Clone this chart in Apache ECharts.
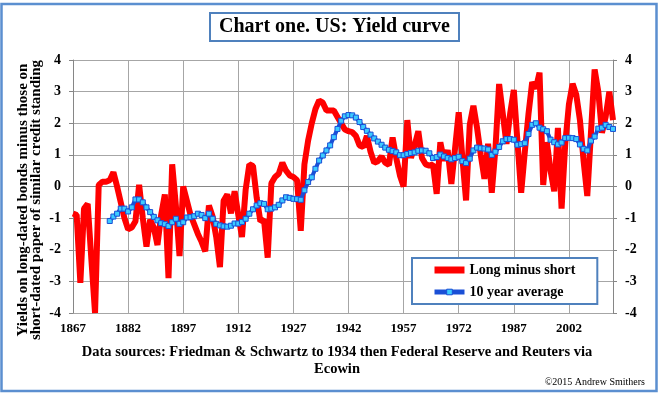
<!DOCTYPE html>
<html>
<head>
<meta charset="utf-8">
<script src="https://cdn.jsdelivr.net/npm/echarts@6/dist/echarts.min.js"></script>
<style>
  html, body { margin: 0; padding: 0; background: #fff; }
  #line { width: 661px; height: 397px; }
</style>
</head>
<body>
<div id="line"></div>
<script>
// 数据：从图上读出来的估计值
var firstYear = 1867;
var longMinusShort = [
  -0.85, -0.9, -3.05, -0.7, -0.55, -2.3, -4.0, 0.05, 0.15, 0.15,
  0.2, 0.45, 0.0, -0.5, -1.0, -1.35, -1.3, -1.1, 0.05, -1.0,
  -1.9, -1.05, -1.3, -1.85, -0.9, -0.25, -2.9, 0.7, -0.6, -2.2,
  0.0, -0.45, -0.9, -1.2, -1.5, -1.75, -2.05, -0.6, -0.95, -1.6,
  -2.55, -0.45, -0.25, -0.85, -0.15, -0.9, -1.6, -0.1, 0.7, 0.65,
  -0.35, -1.1, -1.05, -2.25, 0.1, 0.3, 0.4, 0.75, 0.5, 0.35,
  0.3, 0.2, -1.4, 0.7, 1.45, 2.0, 2.45, 2.72, 2.65, 2.4,
  2.4, 2.4, 2.2, 2.0, 1.8, 1.75, 1.72, 1.6, 1.3, 1.25,
  1.6, 1.1, 0.75, 0.8, 0.95, 0.75, 0.68, 1.55, 0.9, 0.35,
  0.0, 2.1, 0.9, 1.3, 1.75, 0.9, 0.7, 0.66, 0.7, -0.23,
  1.4, 0.82, 1.15, 0.08, 1.2, 2.35, 0.9, -0.44, 1.95, 2.55,
  1.85, 1.0, 0.24, 1.35, -0.2, 1.2, 3.24, 2.3, 1.35, 2.3,
  3.05, 1.4, -0.2, 1.1, 2.3, 3.3, 3.1, 3.6, 0.05, 1.4,
  0.5, -0.15, 1.85, -0.7, 1.35, 2.6, 3.25, 2.9, 2.1, 0.8,
  -0.3, 1.7, 3.7, 3.0, 1.7, 2.2, 3.0, 2.1
];
var avgFirstYear = 1877;
var tenYearAvg = [
  -1.09, -0.95, -0.86, -0.7, -0.7, -0.79, -0.66, -0.41, -0.41, -0.5,
  -0.66, -0.81, -0.96, -1.07, -1.16, -1.19, -1.25, -1.13, -1.02, -1.18,
  -1.13, -0.98, -0.97, -0.94, -0.86, -0.9, -1.0, -0.86, -1.02, -1.18,
  -1.23, -1.26, -1.27, -1.24, -1.17, -1.17, -1.12, -1.02, -0.86, -0.72,
  -0.6, -0.53, -0.55, -0.72, -0.7, -0.66, -0.58, -0.44, -0.34, -0.36,
  -0.39, -0.4, -0.42, -0.12, 0.14, 0.29, 0.56, 0.82, 0.98, 1.14,
  1.3, 1.56, 1.82, 2.08, 2.22, 2.26, 2.25, 2.18, 2.04, 1.88,
  1.76, 1.64, 1.52, 1.42, 1.32, 1.23, 1.16, 1.12, 1.08, 0.99,
  0.99, 1.03, 1.06, 1.08, 1.13, 1.14, 1.13, 1.05, 0.9, 0.93,
  1.01, 0.95, 0.9, 0.86, 0.9, 0.94, 0.8, 0.74, 0.88, 1.14,
  1.23, 1.21, 1.2, 1.17, 1.0, 1.1, 1.25, 1.43, 1.5, 1.5,
  1.48, 1.32, 1.34, 1.37, 1.66, 1.95, 2.0, 1.86, 1.81, 1.75,
  1.48, 1.4, 1.33, 1.39, 1.53, 1.54, 1.53, 1.5, 1.33, 1.19,
  1.14, 1.45, 1.58, 1.83, 1.86, 1.95, 1.88, 1.82
];
var seriesNames = ["Long minus short", "10 year average"];

var years = [];
for (var i = 0; i < longMinusShort.length; i++) years.push(String(firstYear + i));
var avgData = years.map(function (y, i) {
  var j = i - (avgFirstYear - firstYear);
  return j >= 0 ? tenYearAvg[j] : '-';
});

var serif = "'Liberation Serif', 'Times New Roman', serif";
var frameBlue = '#4F81BD';
var avgBlue = '#1A4FD6';

var myChart = echarts.init(document.getElementById('line'));
myChart.setOption({
  animation: false,
  backgroundColor: '#fff',
  title: [
    {
      text: 'Chart one. US: Yield curve',
      left: 210,
      top: 13,
      padding: [4, 9],
      borderColor: frameBlue,
      borderWidth: 2,
      textStyle: { fontFamily: serif, fontSize: 20, fontWeight: 'bold', color: '#000' }
    },
    {
      text: 'Data sources: Friedman & Schwartz to 1934 then Federal Reserve and Reuters via\nEcowin',
      left: 337,
      top: 344,
      textAlign: 'center',
      padding: 0,
      textStyle: { fontFamily: serif, fontSize: 14.5, fontWeight: 'bold', color: '#000', lineHeight: 17, align: 'center' }
    },
    {
      text: '\u00a92015 Andrew Smithers',
      right: 16,
      top: 377,
      padding: 0,
      textStyle: { fontFamily: serif, fontSize: 10, fontWeight: 'normal', color: '#000' }
    }
  ],
  graphic: [
    {
      type: 'rect',
      shape: { x: 1.5, y: 4, width: 655, height: 387 },
      style: { fill: 'none', stroke: '#5B8FD0', lineWidth: 2.5 },
      silent: true
    },
    {
      type: 'text',
      x: 30,
      y: 200,
      rotation: Math.PI / 2,
      style: {
        text: 'Yields on long-dated bonds minus those on\nshort-dated paper of similar credit standing',
        font: 'bold 15px ' + serif,
        fill: '#000',
        lineHeight: 13,
        align: 'center',
        verticalAlign: 'middle',
        textAlign: 'center',
        textVerticalAlign: 'middle'
      },
      silent: true
    }
  ],
  legend: {
    orient: 'vertical',
    left: 412,
    top: 258,
    padding: [5, 22, 5, 19],
    itemWidth: 30,
    itemHeight: 7,
    itemGap: 8,
    borderColor: frameBlue,
    borderWidth: 2,
    backgroundColor: '#fff',
    textStyle: { fontFamily: serif, fontSize: 14, fontWeight: 'bold', color: '#000' },
    data: [
      { name: seriesNames[0], itemStyle: { opacity: 0 }, lineStyle: { width: 7, color: '#FF0000' } },
      { name: seriesNames[1], itemStyle: { color: '#3CCBFF', borderColor: avgBlue, borderWidth: 1 }, lineStyle: { width: 5, color: avgBlue } }
    ]
  },
  grid: { left: 73, right: 48, top: 60, bottom: 84 },
  xAxis: {
    type: 'category',
    data: years,
    boundaryGap: false,
    axisLine: { lineStyle: { color: '#868686' } },
    axisTick: { show: true, interval: 14, length: 4, lineStyle: { color: '#868686' } },
    axisLabel: { interval: 14, margin: 9, fontFamily: serif, fontSize: 13, fontWeight: 'bold', color: '#000' },
    splitLine: { show: true, interval: 14, lineStyle: { color: '#A6A6A6' } }
  },
  yAxis: [
    {
      type: 'value',
      min: -4,
      max: 4,
      interval: 1,
      axisLine: { show: true, lineStyle: { color: '#868686' } },
      axisTick: { show: true, length: 4, lineStyle: { color: '#868686' } },
      axisLabel: { margin: 12, fontFamily: serif, fontSize: 14, fontWeight: 'bold', color: '#000' },
      splitLine: { show: true, lineStyle: { color: '#A6A6A6' } }
    },
    {
      type: 'value',
      position: 'right',
      min: -4,
      max: 4,
      interval: 1,
      axisLine: { show: true, lineStyle: { color: '#868686' } },
      axisTick: { show: true, length: 4, lineStyle: { color: '#868686' } },
      axisLabel: { margin: 12, fontFamily: serif, fontSize: 14, fontWeight: 'bold', color: '#000' },
      splitLine: { show: false }
    }
  ],
  series: [
    {
      name: seriesNames[0],
      type: 'line',
      data: longMinusShort,
      symbol: 'none',
      lineStyle: { width: 6, color: '#FF0000' },
      itemStyle: { color: '#FF0000' },
      z: 2
    },
    {
      name: seriesNames[1],
      type: 'line',
      data: avgData,
      symbol: 'rect',
      symbolSize: 5,
      showAllSymbol: true,
      lineStyle: { width: 4, color: avgBlue },
      itemStyle: { color: '#3CCBFF', borderColor: avgBlue, borderWidth: 1 },
      z: 3
    }
  ]
});
window.addEventListener('resize', function () {
  myChart.resize();
});
</script>
</body>
</html>
